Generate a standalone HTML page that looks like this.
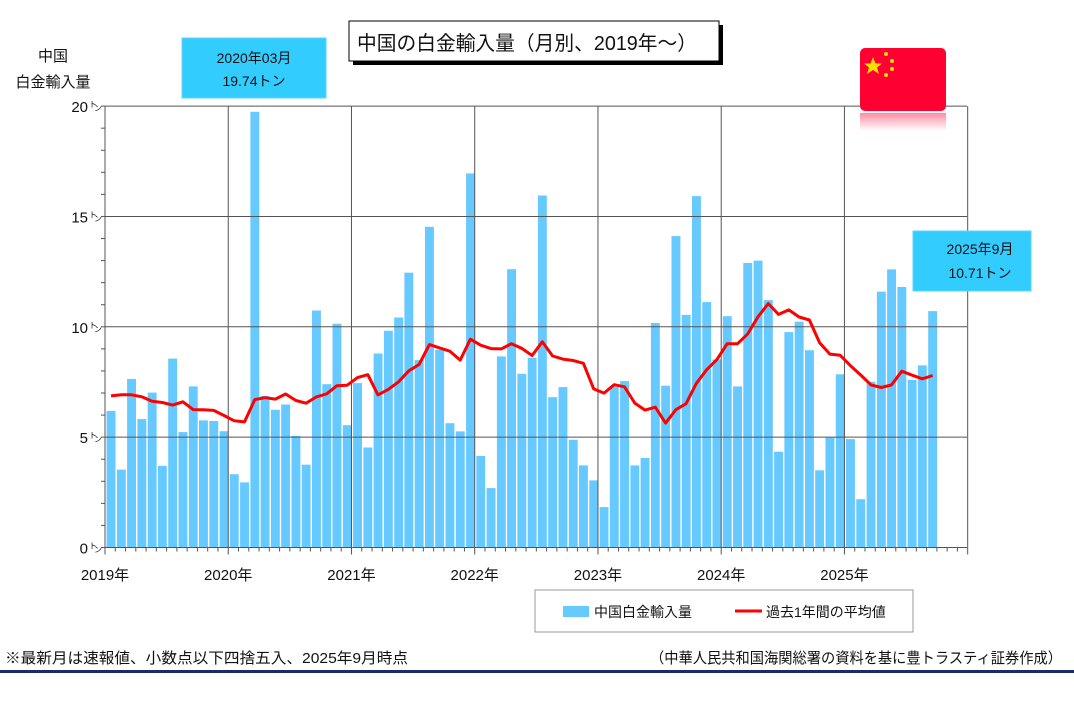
<!DOCTYPE html>
<html><head><meta charset="utf-8"><style>
body{margin:0;background:#fff;width:1074px;height:707px;overflow:hidden}
svg{display:block}
text{font-family:"Liberation Sans","Noto Sans CJK JP",sans-serif;fill:#111}
</style></head><body>
<svg id="s" width="1074" height="707" xmlns="http://www.w3.org/2000/svg">
<defs>
<linearGradient id="rf" x1="0" y1="0" x2="0" y2="1"><stop offset="0" stop-color="#ff0033" stop-opacity="0.45"/><stop offset="1" stop-color="#ff0033" stop-opacity="0"/></linearGradient>
</defs>
<g id="g"></g>
<rect x="353" y="25" width="370" height="40" fill="#000"/>
<rect x="349" y="21" width="370" height="40" fill="#fff" stroke="#000" stroke-width="1"/>
<text x="357" y="50" font-size="20" textLength="340" lengthAdjust="spacingAndGlyphs">中国の白金輸入量（月別、2019年～）</text>
<text x="53" y="61" font-size="15" text-anchor="middle">中国</text>
<text x="53" y="87" font-size="15" text-anchor="middle">白金輸入量</text>
<rect x="182" y="38" width="144" height="60" fill="#33ccff" stroke="#5ad6ff"/>
<text x="254" y="63" font-size="14" text-anchor="middle">2020年03月</text>
<text x="254" y="86" font-size="14" text-anchor="middle">19.74トン</text>
<rect x="913" y="231" width="118" height="60" fill="#33ccff" stroke="#5ad6ff"/>
<text x="980" y="254" font-size="14" text-anchor="middle">2025年9月</text>
<text x="980" y="278" font-size="14" text-anchor="middle">10.71トン</text>
<rect x="860" y="48" width="86" height="63" rx="5" fill="#ff0033"/>
<rect x="860" y="113" width="86" height="18" fill="url(#rf)"/>
<polygon points="873,57 875.5,63.5 882,63.5 877,67.5 879,74 873,70 867,74 869,67.5 864,63.5 870.5,63.5" fill="#ffdd00"/>
<circle cx="886" cy="54" r="2" fill="#ffdd00"/><circle cx="892" cy="61" r="2" fill="#ffdd00"/><circle cx="892" cy="69" r="2" fill="#ffdd00"/><circle cx="886" cy="75" r="2" fill="#ffdd00"/>
<rect x="535" y="590" width="378" height="42" fill="#fff" stroke="#999"/>
<rect x="563" y="606" width="26" height="11" fill="#66c9ff"/>
<text x="594" y="617" font-size="14">中国白金輸入量</text>
<line x1="735" y1="611" x2="762" y2="611" stroke="#f00" stroke-width="3"/>
<text x="766" y="617" font-size="14">過去1年間の平均値</text>
<text x="5" y="663" font-size="15" textLength="403" lengthAdjust="spacingAndGlyphs">※最新月は速報値、小数点以下四捨五入、2025年9月時点</text>
<text x="1062" y="663" font-size="15" text-anchor="end" textLength="412" lengthAdjust="spacingAndGlyphs">（中華人民共和国海関総署の資料を基に豊トラスティ証券作成）</text>
<rect x="0" y="670" width="1074" height="3" fill="#1a2a6c"/>
</svg>
<script>
const v=[6.19,3.53,7.64,5.82,7.02,3.70,8.56,5.23,7.30,5.76,5.73,5.27,
3.32,2.95,19.74,6.87,6.24,6.48,5.06,3.75,10.74,7.40,10.14,5.54,
7.45,4.53,8.79,9.82,10.42,12.45,8.49,14.53,8.96,5.63,5.26,16.95,
4.15,2.69,8.66,12.61,7.87,8.6,15.95,6.81,7.27,4.88,3.72,3.04,
1.83,7.28,7.54,3.72,4.06,10.17,7.33,14.11,10.54,15.92,11.12,8.52,
10.48,7.30,12.89,13.0,11.21,4.34,9.76,10.23,8.94,3.50,4.98,7.85,
4.91,2.19,7.51,11.59,12.60,11.81,7.60,8.25,10.71];
const pre=[6.87,6.92,6.92,6.83,6.63,6.57,6.45,6.6,6.25,6.24,6.21];
const X0=106,M=10.27,Y0=547.5,K=22.07;
const y=t=>Y0-t*K;
let h='';
v.forEach((t,i)=>{h+=`<rect x="${(X0+i*M+0.6).toFixed(1)}" y="${y(t).toFixed(1)}" width="8.9" height="${(t*K).toFixed(1)}" fill="#66c9ff"/>`});
for(let k=1;k<=4;k++)h+=`<line x1="105" x2="967" y1="${y(k*5)}" y2="${y(k*5)}" stroke="#555" stroke-width="1"/>`;
for(let k=1;k<=7;k++){const x=X0-1+k*12*M;h+=`<line x1="${x}" x2="${x}" y1="${y(20)}" y2="${Y0}" stroke="#555" stroke-width="1"/>`}
h+=`<line x1="105" x2="105" y1="${y(20)}" y2="${Y0+4}" stroke="#555"/><line x1="105" x2="967" y1="${Y0}" y2="${Y0}" stroke="#555"/>`;
for(let k=0;k<=20;k++)h+=`<line x1="101" x2="105" y1="${y(k)}" y2="${y(k)}" stroke="#555"/>`;
for(let k=0;k<=84;k++){const x=X0-1+k*M;h+=`<line x1="${x}" x2="${x}" y1="${Y0}" y2="${Y0+(k%12?4:7)}" stroke="#555"/>`}
for(let k=0;k<=4;k++)h+=`<text x="88" y="${y(k*5)+6}" font-size="15" text-anchor="end">${k*5}</text><text x="89" y="${y(k*5)+1}" font-size="8">ト</text><text x="94" y="${y(k*5)+5}" font-size="8">ン</text>`;
for(let k=0;k<7;k++)h+=`<text x="${X0-1+k*12*M}" y="580" font-size="15" text-anchor="middle">${2019+k}年</text>`;
let pts=[];
v.forEach((t,i)=>{let a;if(i<11)a=pre[i];else{let s=0;for(let j=i-11;j<=i;j++)s+=v[j];a=s/12}pts.push(`${(X0+i*M+5).toFixed(1)},${y(a).toFixed(1)}`)});
h+=`<polyline points="${pts.join(' ')}" fill="none" stroke="#f00" stroke-width="3" stroke-linejoin="round"/>`;
document.getElementById('g').innerHTML=h;
</script>
</body></html>
